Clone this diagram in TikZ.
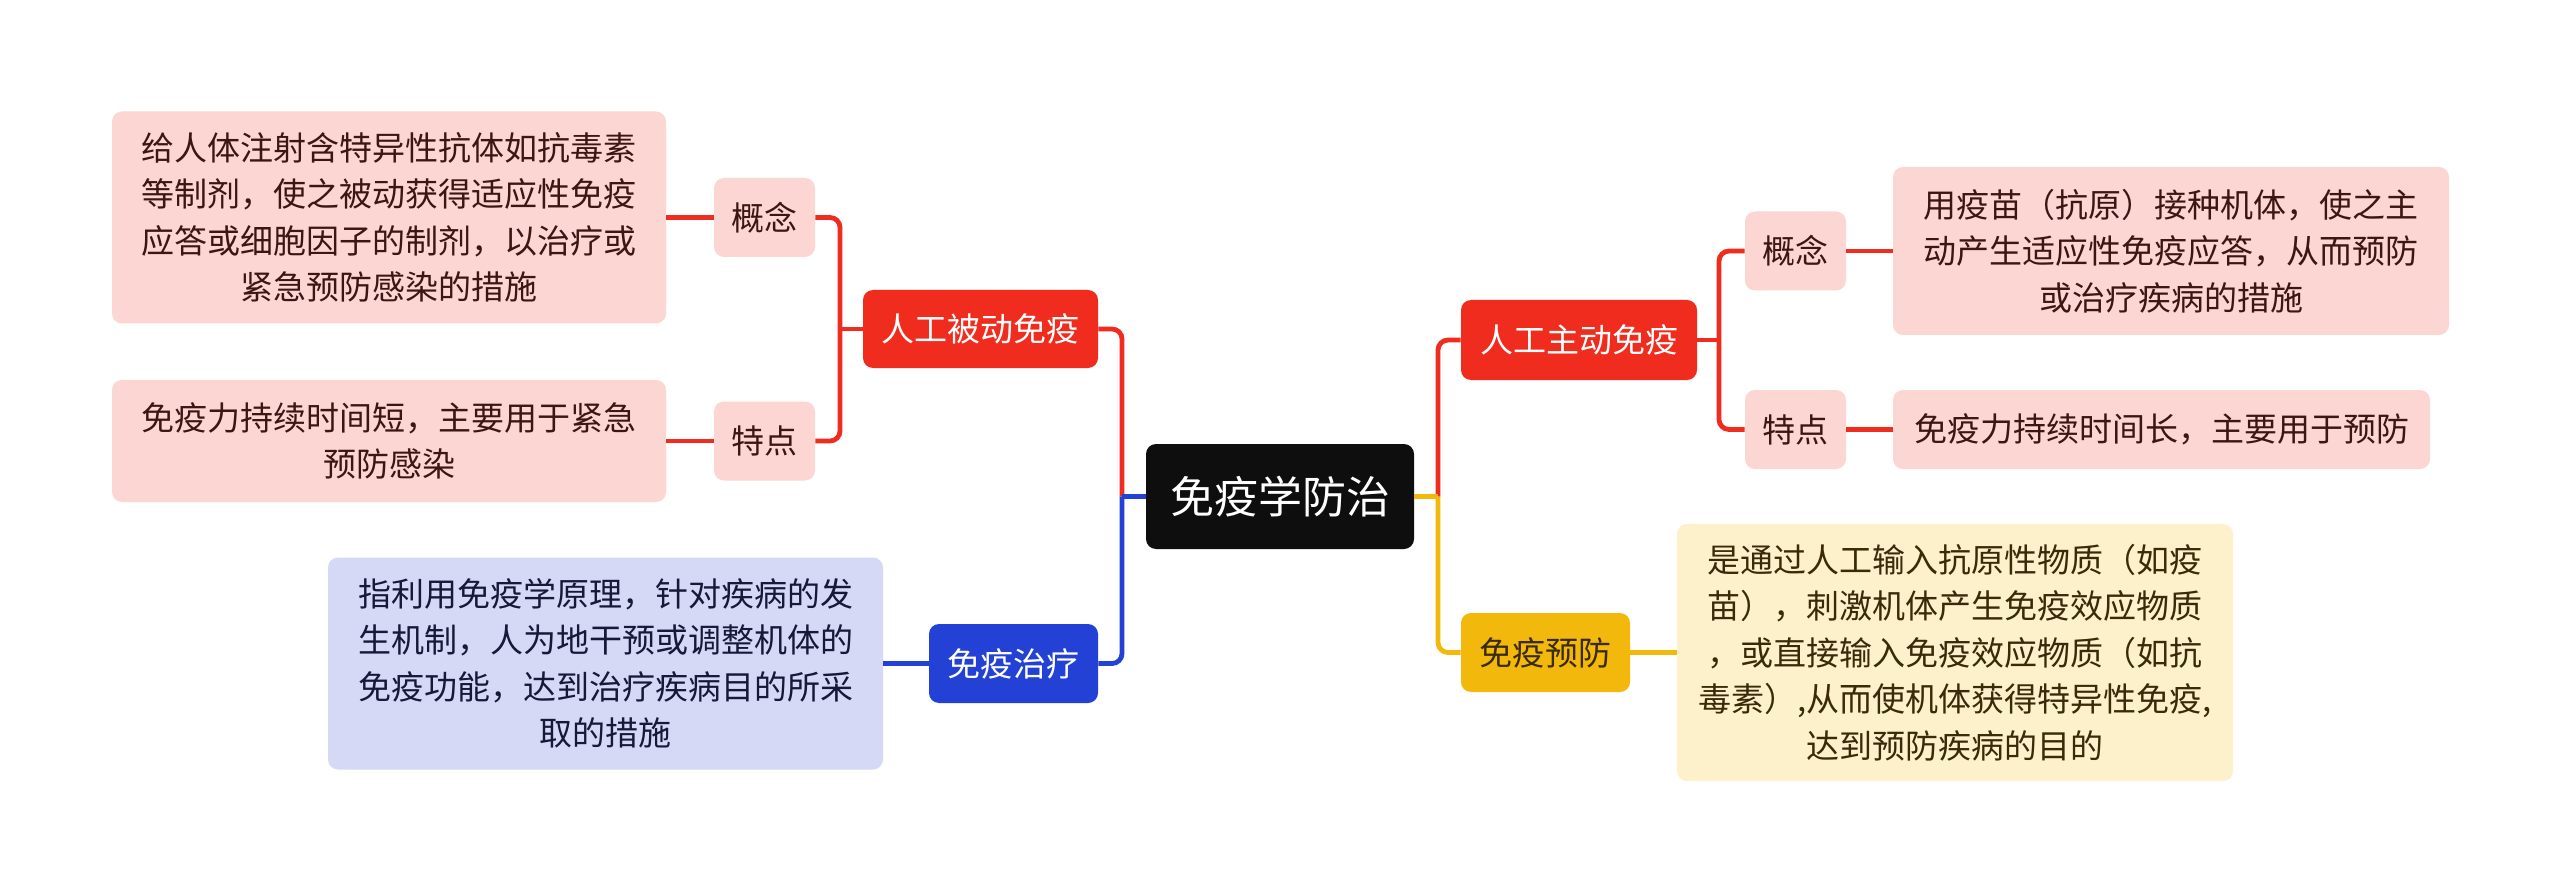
\documentclass[tikz,border=0pt]{standalone}
\usepackage{fontspec}
\setmainfont{Noto Sans CJK SC}
\definecolor{cred}{HTML}{EF2C1E}
\definecolor{cpink}{HTML}{FCD6D3}
\definecolor{cblue}{HTML}{2441D6}
\definecolor{clav}{HTML}{D5D9F6}
\definecolor{cyel}{HTML}{F2B90C}
\definecolor{clyel}{HTML}{FDF1CB}
\definecolor{cblack}{HTML}{0E0E0E}
\definecolor{tred}{HTML}{3C1712}
\definecolor{tblue}{HTML}{15193A}
\definecolor{tyel}{HTML}{3A2A08}
\tikzset{
  base/.style={rounded corners=5pt, inner sep=0pt, align=center, font=\fontsize{16.5pt}{23.25pt}\selectfont},
  rootbox/.style={base, fill=cblack, text=white, font=\fontsize{22pt}{26pt}\selectfont},
  redbox/.style={base, fill=cred, text=white},
  bluebox/.style={base, fill=cblue, text=white},
  yelbox/.style={base, fill=cyel, text=tyel},
  pinkbox/.style={base, fill=cpink, text=tred},
  lavbox/.style={base, fill=clav, text=tblue},
  lyelbox/.style={base, fill=clyel, text=tyel},
  conn/.style={line width=2.4pt, rounded corners=5pt},
}
\begin{document}
\begin{tikzpicture}[x=0.5pt,y=-0.5pt]
\useasboundingbox (0,0) rectangle (2560,893);
\fill[white] (0,0) rectangle (2560,893);
% nodes
\node[rootbox, minimum width=134pt, minimum height=52.5pt] (R) at (1280,496.5) {免疫学防治};
\node[redbox, minimum width=117.5pt, minimum height=39pt] (P) at (980.5,329) {人工被动免疫};
\node[pinkbox, minimum width=50.5pt, minimum height=39.5pt] (PC) at (764.5,217.5) {概念};
\node[pinkbox, minimum width=50.5pt, minimum height=39.5pt] (PT) at (764.5,441) {特点};
\node[pinkbox, minimum width=277pt, minimum height=106pt] (PCt) at (389,217.5) {给人体注射含特异性抗体如抗毒素\\等制剂，使之被动获得适应性免疫\\应答或细胞因子的制剂，以治疗或\\紧急预防感染的措施};
\node[pinkbox, minimum width=277pt, minimum height=61pt] (PTt) at (389,441) {免疫力持续时间短，主要用于紧急\\预防感染};
\node[bluebox, minimum width=84.5pt, minimum height=39.5pt] (T) at (1013.5,663.5) {免疫治疗};
\node[lavbox, minimum width=277.5pt, minimum height=106pt] (Tt) at (605.5,663.5) {指利用免疫学原理，针对疾病的发\\生机制，人为地干预或调整机体的\\免疫功能，达到治疗疾病目的所采\\取的措施};
\node[redbox, minimum width=118pt, minimum height=40pt] (A) at (1579,340) {人工主动免疫};
\node[pinkbox, minimum width=50.5pt, minimum height=39.5pt] (AC) at (1795.5,251) {概念};
\node[pinkbox, minimum width=50.5pt, minimum height=39.5pt] (AT) at (1795.5,429.5) {特点};
\node[pinkbox, minimum width=278pt, minimum height=84pt] (ACt) at (2171,251) {用疫苗（抗原）接种机体，使之主\\动产生适应性免疫应答，从而预防\\或治疗疾病的措施};
\node[pinkbox, minimum width=268.5pt, minimum height=39.5pt] (ATt) at (2161.5,429.5) {免疫力持续时间长，主要用于预防};
\node[yelbox, minimum width=84.5pt, minimum height=39.5pt] (Y) at (1545.5,652.5) {免疫预防};
\node[lyelbox, minimum width=278pt, minimum height=128.5pt] (Yt) at (1955,652.5) {是通过人工输入抗原性物质（如疫\\苗），刺激机体产生免疫效应物质\\，或直接输入免疫效应物质（如抗\\毒素）,从而使机体获得特异性免疫,\\达到预防疾病的目的};
% junctions
\coordinate (jL) at (1122,496.5);
\coordinate (jR) at (1438,496.5);
\coordinate (jP) at (840,329);
\coordinate (jA) at (1719,340);
% connectors from root
\draw[conn, cred] (jL) |- (P.east);
\draw[conn, cblue] (jL) |- (T.east);
\draw[conn, cblue, rounded corners=0pt] (R.west) -- (jL);
\draw[conn, cred] (jR) |- (A.west);
\draw[conn, cyel] (jR) |- (Y.west);
\draw[conn, cyel, rounded corners=0pt] (R.east) -- (jR);
% passive branch
\draw[conn, cred] (jP) |- (PC.east);
\draw[conn, cred] (jP) |- (PT.east);
\draw[conn, cred, rounded corners=0pt] (P.west) -- (jP);
\draw[conn, cred] (PC.west) -- (PCt.east);
\draw[conn, cred] (PT.west) -- (PTt.east);
% active branch
\draw[conn, cred] (jA) |- (AC.west);
\draw[conn, cred] (jA) |- (AT.west);
\draw[conn, cred, rounded corners=0pt] (A.east) -- (jA);
\draw[conn, cred] (AC.east) -- (ACt.west);
\draw[conn, cred] (AT.east) -- (ATt.west);
% therapy and prevention
\draw[conn, cblue] (T.west) -- (Tt.east);
\draw[conn, cyel] (Y.east) -- (Yt.west);
\end{tikzpicture}
\end{document}
